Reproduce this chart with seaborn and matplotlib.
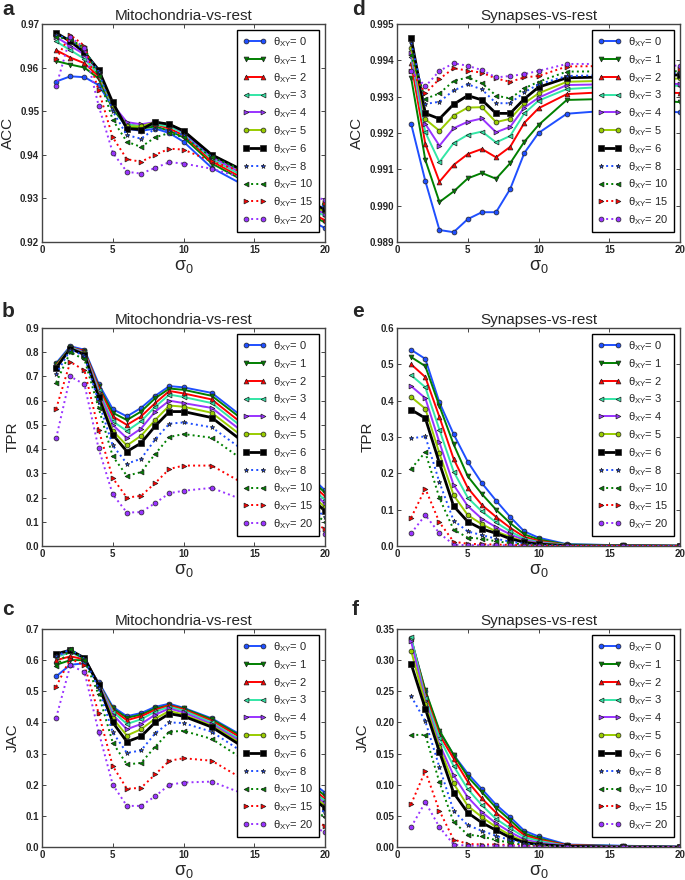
import numpy as np
import pandas as pd
import matplotlib
matplotlib.use("Agg")
import matplotlib.pyplot as plt
import seaborn as sns

sigma0 = [1, 2, 3, 4, 5, 6, 7, 8, 9, 10, 12, 16, 20]
thetas = [0, 1, 2, 3, 4, 5, 6, 8, 10, 15, 20]

# ---- Mitochondria-vs-rest ----
mito_acc = {
    0: [0.9568, 0.9580, 0.9578, 0.9560, 0.9510, 0.9460, 0.9455, 0.9460, 0.9450, 0.9430, 0.9370, 0.9300, 0.9232],
    1: [0.9615, 0.9607, 0.9600, 0.9575, 0.9505, 0.9465, 0.9460, 0.9465, 0.9455, 0.9440, 0.9380, 0.9310, 0.9245],
    2: [0.9640, 0.9623, 0.9610, 0.9580, 0.9510, 0.9470, 0.9465, 0.9470, 0.9460, 0.9445, 0.9385, 0.9315, 0.9250],
    3: [0.9660, 0.9640, 0.9620, 0.9585, 0.9510, 0.9470, 0.9465, 0.9470, 0.9465, 0.9450, 0.9390, 0.9320, 0.9260],
    4: [0.9670, 0.9650, 0.9630, 0.9590, 0.9515, 0.9475, 0.9470, 0.9475, 0.9470, 0.9452, 0.9395, 0.9325, 0.9265],
    5: [0.9675, 0.9665, 0.9640, 0.9590, 0.9515, 0.9465, 0.9465, 0.9475, 0.9470, 0.9455, 0.9400, 0.9330, 0.9270],
    6: [0.9680, 0.9660, 0.9635, 0.9595, 0.9520, 0.9460, 0.9458, 0.9475, 0.9470, 0.9455, 0.9400, 0.9335, 0.9275],
    8: [0.9675, 0.9665, 0.9640, 0.9590, 0.9500, 0.9445, 0.9437, 0.9460, 0.9455, 0.9445, 0.9395, 0.9335, 0.9280],
    10: [0.9670, 0.9665, 0.9645, 0.9580, 0.9480, 0.9430, 0.9418, 0.9440, 0.9450, 0.9440, 0.9395, 0.9340, 0.9285],
    15: [0.9620, 0.9675, 0.9650, 0.9548, 0.9440, 0.9390, 0.9384, 0.9400, 0.9414, 0.9412, 0.9385, 0.9340, 0.9290],
    20: [0.9557, 0.9670, 0.9645, 0.9513, 0.9405, 0.9361, 0.9357, 0.9370, 0.9383, 0.9380, 0.9368, 0.9330, 0.9297],
}
mito_tpr = {
    0: [0.755, 0.825, 0.810, 0.670, 0.565, 0.535, 0.570, 0.620, 0.660, 0.655, 0.632, 0.450, 0.230],
    1: [0.750, 0.820, 0.805, 0.660, 0.550, 0.520, 0.555, 0.610, 0.650, 0.645, 0.620, 0.440, 0.220],
    2: [0.745, 0.820, 0.805, 0.655, 0.535, 0.500, 0.535, 0.590, 0.640, 0.630, 0.605, 0.420, 0.205],
    3: [0.740, 0.820, 0.800, 0.645, 0.515, 0.475, 0.515, 0.575, 0.625, 0.615, 0.590, 0.405, 0.190],
    4: [0.740, 0.815, 0.800, 0.635, 0.500, 0.445, 0.485, 0.555, 0.600, 0.590, 0.570, 0.390, 0.175],
    5: [0.740, 0.815, 0.795, 0.625, 0.475, 0.415, 0.455, 0.520, 0.580, 0.575, 0.550, 0.370, 0.160],
    6: [0.735, 0.815, 0.790, 0.615, 0.460, 0.390, 0.425, 0.495, 0.555, 0.555, 0.530, 0.350, 0.145],
    8: [0.710, 0.810, 0.785, 0.595, 0.415, 0.340, 0.360, 0.440, 0.505, 0.510, 0.490, 0.320, 0.120],
    10: [0.675, 0.800, 0.770, 0.570, 0.370, 0.290, 0.305, 0.380, 0.450, 0.462, 0.447, 0.280, 0.100],
    15: [0.567, 0.760, 0.725, 0.480, 0.280, 0.200, 0.207, 0.260, 0.318, 0.332, 0.332, 0.200, 0.070],
    20: [0.445, 0.700, 0.667, 0.403, 0.213, 0.138, 0.140, 0.177, 0.218, 0.228, 0.240, 0.150, 0.050],
}
mito_jac = {
    0: [0.548, 0.585, 0.590, 0.530, 0.450, 0.420, 0.430, 0.450, 0.460, 0.447, 0.413, 0.310, 0.175],
    1: [0.585, 0.600, 0.600, 0.525, 0.445, 0.415, 0.425, 0.445, 0.455, 0.445, 0.410, 0.305, 0.165],
    2: [0.600, 0.612, 0.603, 0.525, 0.440, 0.407, 0.420, 0.440, 0.455, 0.442, 0.405, 0.300, 0.155],
    3: [0.610, 0.625, 0.605, 0.525, 0.435, 0.395, 0.410, 0.435, 0.450, 0.438, 0.400, 0.290, 0.148],
    4: [0.615, 0.628, 0.607, 0.525, 0.425, 0.378, 0.395, 0.425, 0.445, 0.432, 0.395, 0.285, 0.140],
    5: [0.618, 0.630, 0.607, 0.522, 0.413, 0.358, 0.378, 0.412, 0.437, 0.425, 0.390, 0.278, 0.133],
    6: [0.620, 0.632, 0.607, 0.520, 0.400, 0.338, 0.355, 0.400, 0.428, 0.420, 0.385, 0.270, 0.125],
    8: [0.612, 0.635, 0.605, 0.510, 0.368, 0.302, 0.310, 0.365, 0.400, 0.398, 0.370, 0.250, 0.110],
    10: [0.580, 0.635, 0.600, 0.490, 0.335, 0.265, 0.270, 0.322, 0.370, 0.373, 0.347, 0.230, 0.095],
    15: [0.515, 0.605, 0.583, 0.430, 0.260, 0.187, 0.190, 0.233, 0.277, 0.285, 0.277, 0.170, 0.067],
    20: [0.415, 0.583, 0.562, 0.370, 0.200, 0.132, 0.132, 0.163, 0.200, 0.207, 0.210, 0.140, 0.047],
}

# ---- Synapses-vs-rest ----
syn_acc = {
    0: [0.99225, 0.99068, 0.98933, 0.98927, 0.98963, 0.98982, 0.98982, 0.99046, 0.99145, 0.99200, 0.99253, 0.99265, 0.99257],
    1: [0.99352, 0.99126, 0.99010, 0.99039, 0.99075, 0.99090, 0.99074, 0.99117, 0.99176, 0.99222, 0.99291, 0.99295, 0.99285],
    2: [0.99392, 0.99170, 0.99066, 0.99112, 0.99142, 0.99156, 0.99133, 0.99162, 0.99228, 0.99268, 0.99307, 0.99315, 0.99310],
    3: [0.99410, 0.99202, 0.99120, 0.99172, 0.99195, 0.99204, 0.99174, 0.99192, 0.99254, 0.99289, 0.99321, 0.99330, 0.99330],
    4: [0.99419, 0.99225, 0.99165, 0.99213, 0.99231, 0.99240, 0.99202, 0.99217, 0.99270, 0.99297, 0.99332, 0.99335, 0.99335],
    5: [0.99433, 0.99238, 0.99206, 0.99248, 0.99270, 0.99271, 0.99230, 0.99239, 0.99282, 0.99309, 0.99341, 0.99345, 0.99350],
    6: [0.99461, 0.99254, 0.99239, 0.99279, 0.99303, 0.99291, 0.99254, 0.99254, 0.99294, 0.99326, 0.99352, 0.99355, 0.99360],
    8: [0.99447, 0.99280, 0.99286, 0.99317, 0.99334, 0.99320, 0.99282, 0.99282, 0.99312, 0.99334, 0.99357, 0.99360, 0.99365],
    10: [0.99415, 0.99294, 0.99309, 0.99343, 0.99353, 0.99337, 0.99303, 0.99295, 0.99323, 0.99341, 0.99369, 0.99370, 0.99370],
    15: [0.99372, 0.99309, 0.99349, 0.99378, 0.99372, 0.99366, 0.99350, 0.99341, 0.99353, 0.99357, 0.99383, 0.99385, 0.99375],
    20: [0.99372, 0.99328, 0.99371, 0.99392, 0.99385, 0.99373, 0.99353, 0.99357, 0.99362, 0.99371, 0.99390, 0.99390, 0.99385],
}
syn_tpr = {
    0: [0.540, 0.515, 0.395, 0.308, 0.232, 0.173, 0.125, 0.080, 0.040, 0.023, 0.005, 0.002, 0.0005],
    1: [0.520, 0.495, 0.385, 0.280, 0.192, 0.143, 0.100, 0.063, 0.032, 0.018, 0.004, 0.002, 0.0005],
    2: [0.500, 0.465, 0.355, 0.240, 0.160, 0.113, 0.080, 0.050, 0.025, 0.014, 0.003, 0.001, 0.0],
    3: [0.470, 0.437, 0.320, 0.205, 0.133, 0.095, 0.065, 0.040, 0.020, 0.011, 0.003, 0.001, 0.0],
    4: [0.440, 0.407, 0.285, 0.168, 0.110, 0.075, 0.052, 0.032, 0.016, 0.009, 0.002, 0.001, 0.0],
    5: [0.410, 0.378, 0.255, 0.140, 0.085, 0.060, 0.040, 0.025, 0.012, 0.007, 0.002, 0.0005, 0.0],
    6: [0.375, 0.352, 0.228, 0.110, 0.067, 0.047, 0.035, 0.020, 0.010, 0.005, 0.001, 0.0, 0.0],
    8: [0.296, 0.302, 0.175, 0.070, 0.040, 0.030, 0.020, 0.012, 0.006, 0.003, 0.001, 0.0, 0.0],
    10: [0.213, 0.258, 0.132, 0.045, 0.023, 0.020, 0.013, 0.008, 0.004, 0.002, 0.0, 0.0, 0.0],
    15: [0.078, 0.158, 0.065, 0.012, 0.006, 0.005, 0.004, 0.003, 0.002, 0.001, 0.0, 0.0, 0.0],
    20: [0.035, 0.085, 0.035, 0.004, 0.002, 0.002, 0.002, 0.002, 0.001, 0.0005, 0.0, 0.0, 0.0],
}
syn_jac = {
    0: [0.335, 0.250, 0.185, 0.148, 0.118, 0.093, 0.068, 0.048, 0.026, 0.017, 0.004, 0.002, 0.0005],
    1: [0.333, 0.252, 0.187, 0.148, 0.113, 0.088, 0.063, 0.043, 0.022, 0.014, 0.003, 0.0015, 0.0],
    2: [0.335, 0.245, 0.180, 0.142, 0.105, 0.078, 0.055, 0.037, 0.019, 0.012, 0.003, 0.001, 0.0],
    3: [0.337, 0.240, 0.175, 0.130, 0.093, 0.067, 0.045, 0.030, 0.016, 0.010, 0.002, 0.001, 0.0],
    4: [0.330, 0.235, 0.165, 0.115, 0.080, 0.056, 0.038, 0.024, 0.012, 0.007, 0.002, 0.0005, 0.0],
    5: [0.315, 0.230, 0.160, 0.102, 0.066, 0.048, 0.032, 0.019, 0.009, 0.005, 0.001, 0.0, 0.0],
    6: [0.294, 0.222, 0.153, 0.087, 0.055, 0.039, 0.027, 0.015, 0.007, 0.004, 0.001, 0.0, 0.0],
    8: [0.242, 0.202, 0.128, 0.058, 0.035, 0.026, 0.018, 0.011, 0.005, 0.003, 0.0005, 0.0, 0.0],
    10: [0.180, 0.180, 0.104, 0.040, 0.020, 0.017, 0.011, 0.007, 0.003, 0.002, 0.0, 0.0, 0.0],
    15: [0.069, 0.122, 0.058, 0.012, 0.005, 0.004, 0.004, 0.003, 0.002, 0.001, 0.0, 0.0, 0.0],
    20: [0.032, 0.072, 0.032, 0.004, 0.002, 0.002, 0.002, 0.002, 0.001, 0.0005, 0.0, 0.0, 0.0],
}

# style per theta: colour, marker, linestyle
colores = {0: "#1f4fff", 1: "#008000", 2: "#ff0000", 3: "#33e6a6", 4: "#9933ff",
           5: "#99cc00", 6: "#000000", 8: "#1f4fff", 10: "#008000", 15: "#ff0000",
           20: "#9933ff"}
marcas = {0: "o", 1: "v", 2: "^", 3: "<", 4: ">", 5: "o", 6: "s",
          8: "*", 10: "<", 15: ">", 20: "o"}
lineas = {t: ("-" if t <= 6 else ":") for t in thetas}

paneles = [
    ("a", mito_acc, "Mitochondria-vs-rest", "ACC", (0.92, 0.97), np.arange(0.92, 0.9701, 0.01), "%.2f"),
    ("b", mito_tpr, "Mitochondria-vs-rest", "TPR", (0.0, 0.9), np.arange(0.0, 0.901, 0.1), "%.1f"),
    ("c", mito_jac, "Mitochondria-vs-rest", "JAC", (0.0, 0.7), np.arange(0.0, 0.701, 0.1), "%.1f"),
    ("d", syn_acc, "Synapses-vs-rest", "ACC", (0.989, 0.995), np.arange(0.989, 0.99501, 0.001), "%.3f"),
    ("e", syn_tpr, "Synapses-vs-rest", "TPR", (0.0, 0.6), np.arange(0.0, 0.601, 0.1), "%.1f"),
    ("f", syn_jac, "Synapses-vs-rest", "JAC", (0.0, 0.35), np.arange(0.0, 0.3501, 0.05), "%.2f"),
]

sns.set_style("ticks")
plt.rcParams['font.family'] = ['Liberation Sans', 'DejaVu Sans']
plt.rcParams['mathtext.fontset'] = 'custom'
plt.rcParams['mathtext.rm'] = 'Liberation Sans'
plt.rcParams['mathtext.it'] = 'Liberation Sans'
plt.rcParams['xtick.direction'] = 'in'
plt.rcParams['ytick.direction'] = 'in'

fig = plt.figure(figsize=(6.85, 8.8), dpi=100)
lefts = [42 / 685, 397 / 685]
bottoms = [1 - 242 / 880, 1 - 546 / 880, 1 - 847 / 880]
w, h = 283 / 685, 218 / 880
letra_x = [2 / 685, 352 / 685]
letra_y = [1 - 15 / 880, 1 - 317 / 880, 1 - 615 / 880]

for i, (letra, datos, titulo, ylab, ylim, yt, fmt) in enumerate(paneles):
    col, fila = i // 3, i % 3
    ax = fig.add_axes([lefts[col], bottoms[fila], w, h])
    for t in thetas:
        lw = 2.0 if t == 6 else 1.4
        ms = 4.5 if t == 6 else 3.5
        sns.lineplot(x=sigma0, y=datos[t], ax=ax, color=colores[t], marker=marcas[t],
                     linestyle=lineas[t], linewidth=lw, markersize=ms,
                     markeredgecolor="#222222", markeredgewidth=0.5,
                     label=r"$\theta_{XY}$= %d" % t)
    ax.set_xlim(0, 20)
    ax.set_ylim(*ylim)
    ax.set_xticks([0, 5, 10, 15, 20])
    ax.set_yticks(yt)
    ax.set_yticklabels([fmt % v for v in yt])
    ax.tick_params(labelsize=7, top=True, right=True, length=3, width=0.6, pad=2)
    for lab in ax.get_xticklabels() + ax.get_yticklabels():
        lab.set_fontweight("bold")
    for sp in ax.spines.values():
        sp.set_linewidth(1.0)
        sp.set_color("#444444")
    ax.set_title(titulo, fontsize=11, pad=3)
    ax.set_ylabel(ylab, fontsize=11, labelpad=4)
    ax.set_xlabel(r"$\sigma_0$", fontsize=13, labelpad=2)
    leg = ax.legend(loc="upper right", numpoints=2, fontsize=8, fancybox=False,
                    framealpha=1, edgecolor="black", labelspacing=0.36,
                    handlelength=2.2, handletextpad=0.6, borderpad=0.5,
                    borderaxespad=0.5)
    leg.get_frame().set_linewidth(1.0)
    fig.text(letra_x[col], letra_y[fila], letra, fontsize=15,
             fontweight="bold", va="baseline", ha="left")

fig.savefig("out.png", dpi=100)
